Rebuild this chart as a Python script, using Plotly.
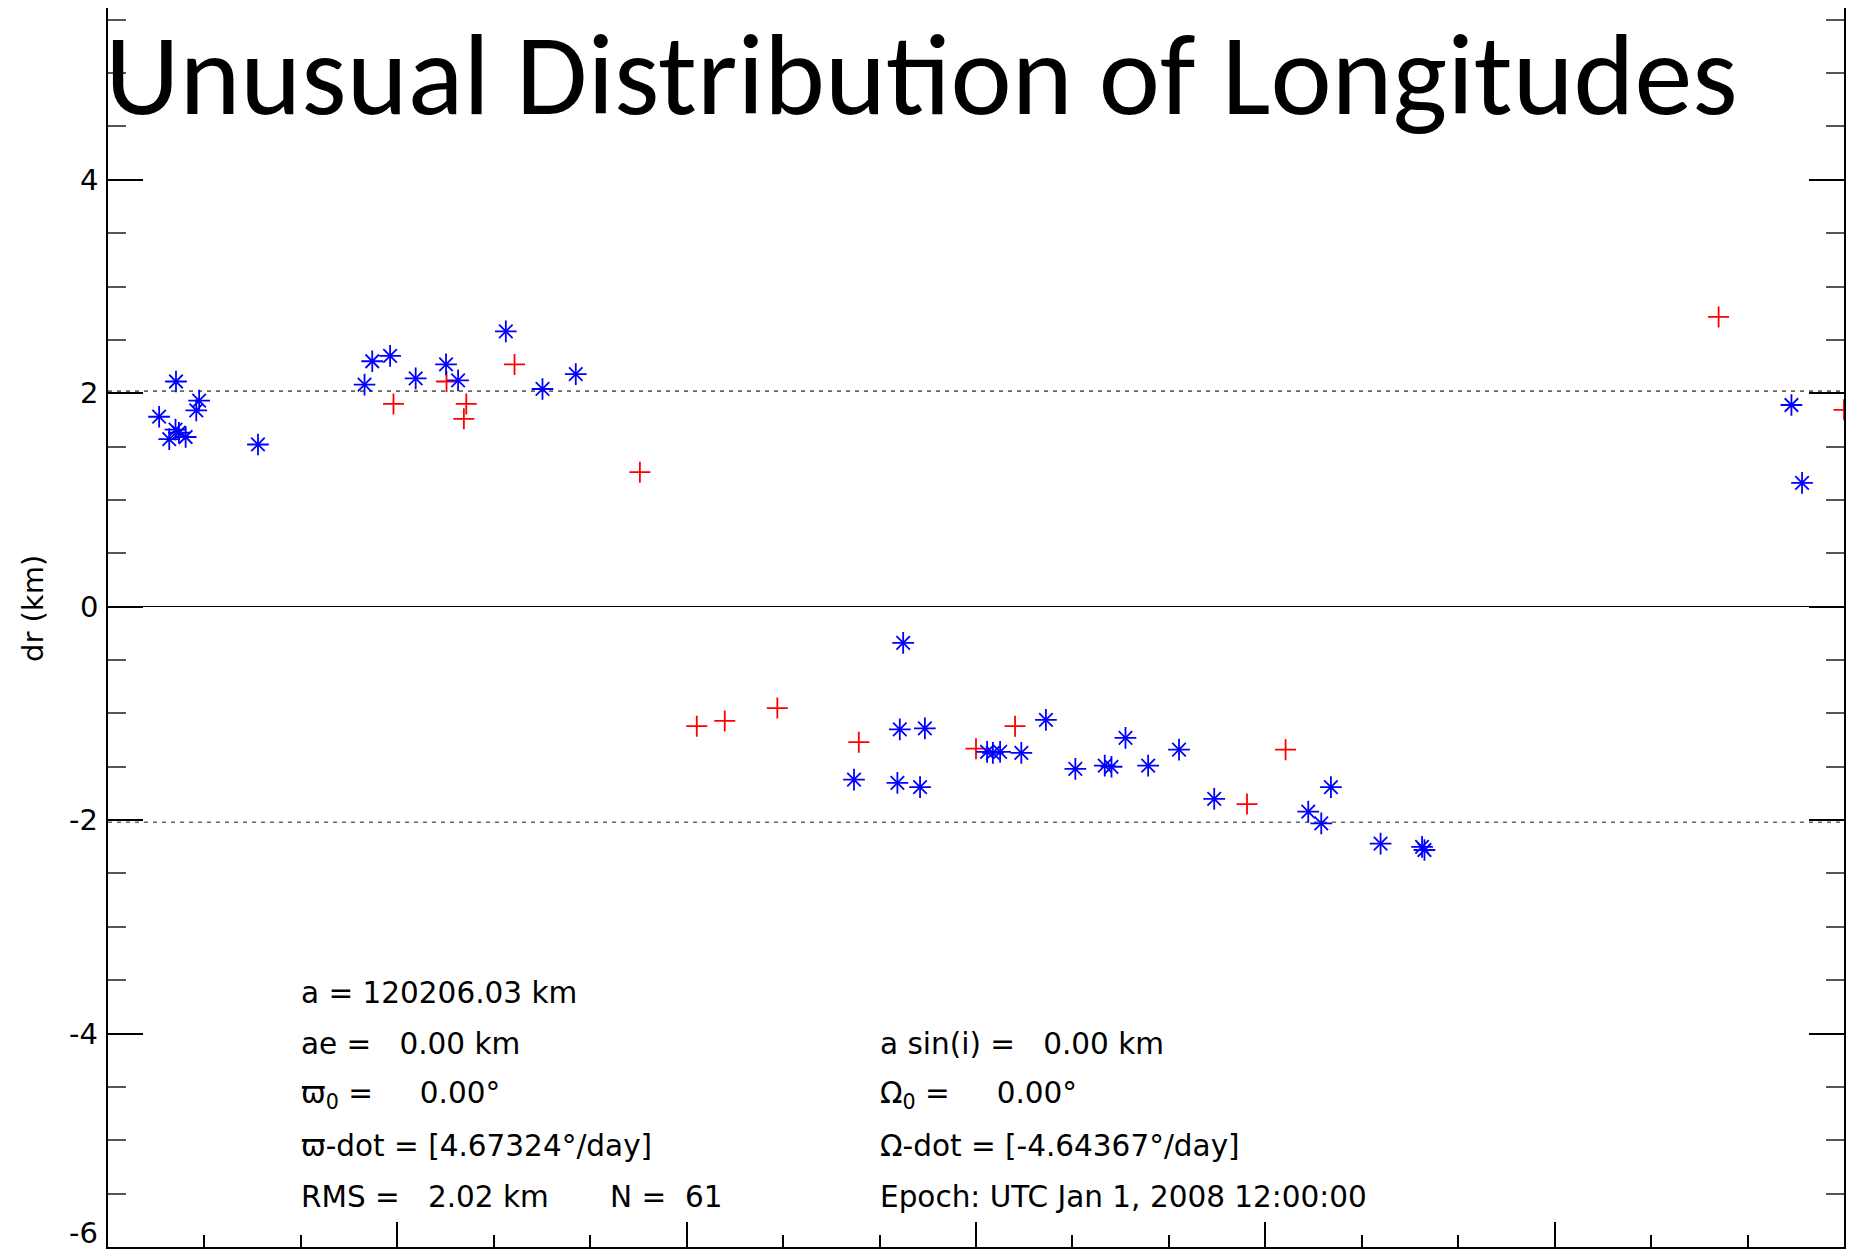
import plotly.graph_objects as go

# Radial residuals dr (km) against longitude (deg)
star_lon = [10.6, 14.1, 12.7, 14.0, 14.7, 16.1, 18.3, 18.9, 31.1,
            53.2, 54.8, 58.5, 63.8, 70.1, 72.6, 82.5, 90.1, 97.0,
            154.7, 163.7, 164.2, 164.9, 168.4, 169.4, 182.3, 183.5, 185.0,
            189.4, 194.5, 200.6, 206.7, 208.1, 211.0, 215.7, 222.1, 229.4,
            248.9, 251.6, 253.6, 263.9, 272.5, 273.0,
            349.1, 351.3]
star_dr = [1.78, 2.11, 1.57, 1.66, 1.63, 1.59, 1.84, 1.93, 1.52,
           2.08, 2.30, 2.35, 2.14, 2.27, 2.12, 2.58, 2.04, 2.18,
           -1.62, -1.65, -1.15, -0.34, -1.69, -1.14, -1.36, -1.37, -1.36,
           -1.37, -1.06, -1.52, -1.49, -1.50, -1.23, -1.49, -1.34, -1.80,
           -1.92, -2.03, -1.69, -2.22, -2.25, -2.28,
           1.89, 1.16]

plus_lon = [59.2, 70.2, 73.8, 74.3, 84.3, 110.3, 122.1, 127.9, 138.8,
            155.7, 180.0, 188.1, 236.2, 244.2, 334.0, 360.0]
plus_dr = [1.90, 2.11, 1.76, 1.90, 2.27, 1.26, -1.12, -1.07, -0.95,
           -1.27, -1.33, -1.12, -1.85, -1.34, 2.715, 1.845]

rms_km = 2.02
n_obs = 61

y_tick_values = [-6, -4, -2, 0, 2, 4]
y_tick_labels = ["-6", "-4", "-2", "0", "2", "4"]

title_text = "Unusual Distribution of Longitudes"
y_title = "dr (km)"
fit_left = [
    "a = 120206.03 km",
    "ae =   0.00 km",
    "ϖ<sub>0</sub> =     0.00°",
    "ϖ-dot = [4.67324°/day]",
    f"RMS =   {rms_km:.2f} km",
]
fit_right = [
    None,
    "a sin(i) =   0.00 km",
    "Ω<sub>0</sub> =     0.00°",
    "Ω-dot = [-4.64367°/day]",
    "Epoch: UTC Jan 1, 2008 12:00:00",
]
n_text = f"N =  {n_obs}"

# ---- page geometry (pixels) ----
W, H = 1854, 1250
ML, MR, MT, MB = 108, 10, 8, 3
PW, PH = W - ML - MR, H - MT - MB


def px(x):
    return (x - ML) / PW


def py(y):
    return (H - MB - y) / PH


def nb(s):
    return s.replace(" ", "\u00a0")


TXT = "DejaVu Sans"
BLUE = "#0000ff"
RED = "#ff0000"
MLW = 1.8

fig = go.Figure()

fig.add_trace(go.Scatter(
    x=plus_lon, y=plus_dr, mode="markers", hoverinfo="skip",
    marker=dict(symbol="cross-thin", size=15, color=RED,
                line=dict(color=RED, width=MLW)),
))
# asterisk drawn as an upright cross plus a diagonal cross
fig.add_trace(go.Scatter(
    x=star_lon, y=star_dr, mode="markers", hoverinfo="skip",
    marker=dict(symbol="cross-thin", size=15.5, color=BLUE,
                line=dict(color=BLUE, width=MLW)),
))
fig.add_trace(go.Scatter(
    x=star_lon, y=star_dr, mode="markers", hoverinfo="skip",
    marker=dict(symbol="x-thin", size=13.5, color=BLUE,
                line=dict(color=BLUE, width=MLW)),
))

# +/- RMS guide lines
for s in (1, -1):
    fig.add_shape(type="line", xref="paper", x0=0, x1=1, yref="y",
                  y0=s * rms_km, y1=s * rms_km, layer="below",
                  line=dict(color="#666666", width=1.6, dash="4px,5px"))

ann = []
ann.append(dict(text=title_text, x=px(921), y=py(74), xref="paper", yref="paper",
                xanchor="center", yanchor="middle", showarrow=False,
                font=dict(family="Carlito, Lato", size=116, color="black")))
ann.append(dict(text=y_title, x=px(33), y=py(609), xref="paper", yref="paper",
                xanchor="center", yanchor="middle", textangle=-90, showarrow=False,
                font=dict(family=TXT, size=29, color="black")))

# y tick labels, set just left of the axis line; the lowest one is
# nudged up so it stays on the page
for v, lab in zip(y_tick_values, y_tick_labels):
    ann.append(dict(text=lab, x=px(98), y=v, xref="paper", yref="y",
                    xanchor="right", yanchor="middle", showarrow=False,
                    borderpad=0, borderwidth=0,
                    yshift=14 if v == min(y_tick_values) else 0,
                    font=dict(family=TXT, size=29, color="black")))

baselines = [1003, 1054, 1105, 1156, 1207]
for i, b in enumerate(baselines):
    for xpos, col in ((301, fit_left), (880, fit_right)):
        t = col[i]
        if t is None:
            continue
        ann.append(dict(text=nb(t), x=px(xpos), y=py(b - 10), xref="paper", yref="paper",
                        xanchor="left", yanchor="middle", showarrow=False,
                        borderpad=0, borderwidth=0,
                        font=dict(family=TXT, size=29.5, color="black")))
ann.append(dict(text=nb(n_text), x=px(609.6), y=py(baselines[4] - 10),
                xref="paper", yref="paper", xanchor="left", yanchor="middle",
                showarrow=False, borderpad=0, borderwidth=0,
                font=dict(family=TXT, size=29.5, color="black")))

fig.update_layout(
    width=W, height=H,
    margin=dict(l=ML, r=MR, t=MT, b=MB, pad=0),
    paper_bgcolor="white", plot_bgcolor="white",
    showlegend=False,
    annotations=ann,
    xaxis=dict(
        range=[0, 360], showline=True, linecolor="black", linewidth=1.5,
        mirror=False, showgrid=False, zeroline=False,
        ticks="inside", tick0=0, dtick=60, ticklen=25, tickwidth=1.5,
        tickcolor="black", showticklabels=False,
        minor=dict(ticks="inside", tick0=0, dtick=20, ticklen=12,
                   tickwidth=1.5, tickcolor="black", showgrid=False),
    ),
    yaxis=dict(
        range=[-6, 5.61], showline=True, linecolor="black", linewidth=1.5,
        mirror="ticks", showgrid=False,
        zeroline=True, zerolinecolor="black", zerolinewidth=1.3,
        tickmode="array", tickvals=y_tick_values, showticklabels=False,
        ticks="inside", ticklen=35, tickwidth=1.5, tickcolor="black",
        minor=dict(ticks="inside", tickmode="linear", tick0=0, dtick=0.5,
                   ticklen=18, tickwidth=1.5, tickcolor="#555555", showgrid=False),
    ),
)

fig.write_html("out.html")
